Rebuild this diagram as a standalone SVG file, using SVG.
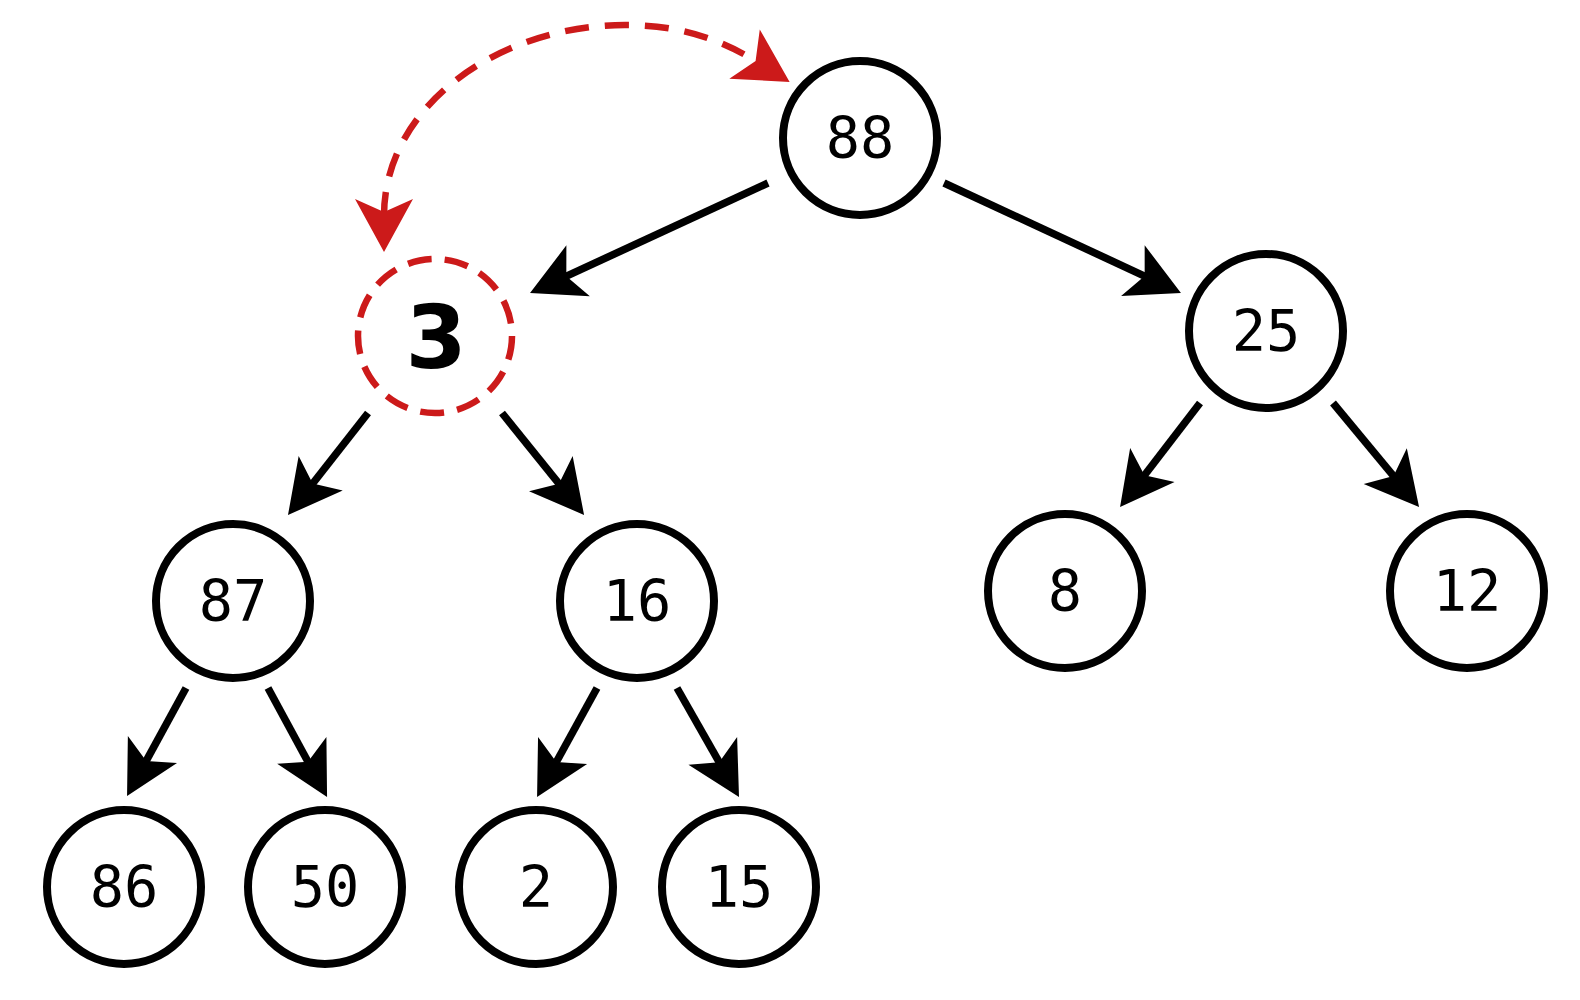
<svg xmlns="http://www.w3.org/2000/svg" width="1580" height="1000" viewBox="0 0 1580 1000">
<style>
.node{fill:#fff;stroke:#000;stroke-width:8}
.sel{fill:#fff;stroke:#cc1a1a;stroke-width:6.5;stroke-dasharray:24 13.2}
.lbl{font-family:"DejaVu Sans Mono","Liberation Mono",monospace;font-size:57px;text-anchor:middle;fill:#000}
.big{font-family:"DejaVu Sans","Liberation Sans",sans-serif;font-size:88px;font-weight:bold;text-anchor:middle;fill:#000}
.edge{fill:none;stroke:#000;stroke-width:7.5;marker-end:url(#ah)}
.swap{fill:none;stroke:#cc1a1a;stroke-width:6.5;stroke-dasharray:24 16;marker-start:url(#rh);marker-end:url(#rh)}
</style>
<defs>
<marker id="ah" markerUnits="userSpaceOnUse" viewBox="-56 -30 60 60" markerWidth="60" markerHeight="60" refX="-36" refY="0" orient="auto">
<path d="M0,0 L-53,-28 L-40,0 L-53,28 Z" fill="#000"/>
</marker>
<marker id="rh" markerUnits="userSpaceOnUse" viewBox="-56 -31 60 62" markerWidth="60" markerHeight="62" refX="-36" refY="0" orient="auto-start-reverse">
<path d="M0,0 L-53,-29 L-40,0 L-53,29 Z" fill="#cc1a1a"/>
</marker>
</defs>
<rect width="1580" height="1000" fill="#fff"/>
<g id="connectors">
<path class="edge" d="M768,183 L562.7,277.9"/>
<path class="edge" d="M944,183 L1148.3,277.8"/>
<path class="edge" d="M368,413 L310.2,486.7"/>
<path class="edge" d="M502,413 L561.5,486.9"/>
<path class="edge" d="M1200,403 L1142,478.5"/>
<path class="edge" d="M1333,403 L1396.1,479.2"/>
<path class="edge" d="M186,688 L144.3,764.4"/>
<path class="edge" d="M268,688 L309.9,765.3"/>
<path class="edge" d="M597,688 L554.4,765.5"/>
<path class="edge" d="M677,688 L721.2,765.7"/>
<path class="swap" d="M384,216 C384,105 500,25 625,25 C685,25 725,42 759,63"/>
</g>
<g id="n88"><circle class="node" cx="860" cy="138" r="77"/><text class="lbl" x="860" y="158">88</text></g>
<g id="n3"><circle class="sel" cx="435" cy="336" r="77"/><text class="big" x="436" y="368">3</text></g>
<g id="n25"><circle class="node" cx="1266" cy="331" r="77"/><text class="lbl" x="1266" y="351">25</text></g>
<g id="n87"><circle class="node" cx="233" cy="601" r="77"/><text class="lbl" x="233" y="621">87</text></g>
<g id="n16"><circle class="node" cx="637" cy="601" r="77"/><text class="lbl" x="637" y="621">16</text></g>
<g id="n8"><circle class="node" cx="1065" cy="591" r="77"/><text class="lbl" x="1065" y="611">8</text></g>
<g id="n12"><circle class="node" cx="1467" cy="591" r="77"/><text class="lbl" x="1467" y="611">12</text></g>
<g id="n86"><circle class="node" cx="124" cy="887" r="77"/><text class="lbl" x="124" y="907">86</text></g>
<g id="n50"><circle class="node" cx="325" cy="887" r="77"/><text class="lbl" x="325" y="907">50</text></g>
<g id="n2"><circle class="node" cx="536" cy="887" r="77"/><text class="lbl" x="536" y="907">2</text></g>
<g id="n15"><circle class="node" cx="739" cy="887" r="77"/><text class="lbl" x="739" y="907">15</text></g>
</svg>
